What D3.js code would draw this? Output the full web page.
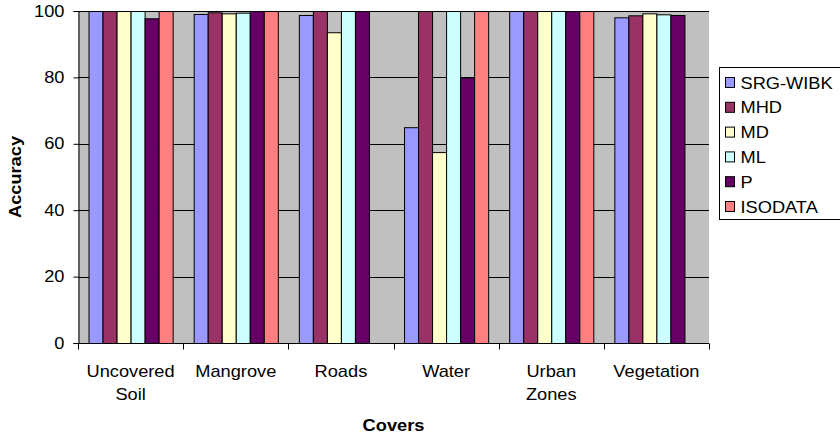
<!DOCTYPE html>
<html>
<head>
<meta charset="utf-8">
<script src="https://cdn.jsdelivr.net/npm/d3@7/dist/d3.min.js"></script>
<style>
  html, body { margin: 0; padding: 0; background: #fff; }
  svg { display: block; }
  text { font-family: "Liberation Sans", Arial, sans-serif; fill: #000; }
</style>
</head>
<body>
<svg id="chart" width="840" height="436"></svg>
<script>
// Land-cover classes (category axis)
const covers = ["Uncovered Soil", "Mangrove", "Roads", "Water", "Urban Zones", "Vegetation"];
const coverLines = [["Uncovered", "Soil"], ["Mangrove"], ["Roads"], ["Water"], ["Urban", "Zones"], ["Vegetation"]];

// Classification methods (series)
const methods = ["SRG-WIBK", "MHD", "MD", "ML", "P", "ISODATA"];
const colors = ["#9999FF", "#993366", "#FFFFCC", "#CCFFFF", "#660066", "#FF8080"];

// Accuracy per method, one value per cover (null = no bar)
const srgWibk = [100, 99.1, 98.8, 65, 100, 98.1];
const mhd     = [100, 99.6, 100, 100, 100, 98.7];
const md      = [100, 99.3, 93.6, 57.5, 100, 99.3];
const ml      = [100, 99.5, 100, 100, 100, 99.0];
const p       = [97.8, 100, 100, 80, 100, 98.8];
const isodata = [100, 100, null, 100, 100, null];
const seriesValues = [srgWibk, mhd, md, ml, p, isodata];

const yTicks = [0, 20, 40, 60, 80, 100];

const svg = d3.select("#chart");
const plot = { left: 78, top: 11, right: 709, bottom: 343 };
const fs = 16;    // label font size
const sx = 1.14;  // horizontal text stretch

const x0 = d3.scaleBand().domain(covers).range([plot.left, plot.right]).paddingInner(0).paddingOuter(0);
// 150% gap width: bars take 6 of 7.5 slots
const groupPad = 0.75 / 7.5;
const x1 = d3.scaleBand().domain(methods)
  .range([x0.bandwidth() * groupPad, x0.bandwidth() * (1 - groupPad)]).padding(0);
const y = d3.scaleLinear().domain([0, 100]).range([plot.bottom, plot.top]);

// plot background
svg.append("rect")
  .attr("x", plot.left).attr("y", plot.top)
  .attr("width", plot.right - plot.left).attr("height", plot.bottom - plot.top)
  .attr("fill", "#C0C0C0");

// gridlines
svg.append("g").selectAll("line").data(yTicks.filter(d => d > 0)).join("line")
  .attr("x1", plot.left).attr("x2", plot.right)
  .attr("y1", d => Math.round(y(d)) + 0.5).attr("y2", d => Math.round(y(d)) + 0.5)
  .attr("stroke", "#000").attr("stroke-width", 1);

// bars
const groups = svg.append("g").selectAll("g").data(covers).join("g")
  .attr("transform", c => `translate(${x0(c)},0)`);
groups.selectAll("rect")
  .data((c, ci) => methods.map((m, mi) => ({ m, mi, v: seriesValues[mi][ci] })).filter(d => d.v != null))
  .join("rect")
  .attr("x", d => x1(d.m) + 0.5)
  .attr("y", d => y(d.v) + 0.5)
  .attr("width", x1.bandwidth())
  .attr("height", d => y(0) - y(d.v))
  .attr("fill", d => colors[d.mi])
  .attr("stroke", "#000").attr("stroke-width", 1);

// y axis
const yAxis = svg.append("g").attr("transform", `translate(${plot.left + 0.5},0)`)
  .call(d3.axisLeft(y).tickValues(yTicks).tickSize(5).tickPadding(9).tickFormat(d3.format("d")));
yAxis.select(".domain").attr("stroke", "#000");
yAxis.selectAll(".tick line").attr("stroke", "#000");
yAxis.selectAll(".tick text")
  .attr("font-size", fs).attr("font-family", null)
  .each(function () {
    const t = d3.select(this);
    const xPos = +t.attr("x");
    t.attr("x", null).attr("transform", `translate(${xPos},0) scale(${sx},1)`);
  });

// x axis
const xAxis = svg.append("g").attr("transform", `translate(0,${plot.bottom + 0.5})`);
xAxis.append("line").attr("x1", plot.left).attr("x2", plot.right).attr("stroke", "#000");
xAxis.selectAll("line.tk").data(d3.range(covers.length + 1)).join("line")
  .attr("class", "tk")
  .attr("x1", i => Math.round(plot.left + i * x0.bandwidth()) + 0.5)
  .attr("x2", i => Math.round(plot.left + i * x0.bandwidth()) + 0.5)
  .attr("y1", 0).attr("y2", 6).attr("stroke", "#000");

// category labels
const catLabels = svg.append("g").selectAll("text").data(covers).join("text")
  .attr("transform", c => `translate(${x0(c) + x0.bandwidth() / 2},377) scale(${sx},1)`)
  .attr("text-anchor", "middle").attr("font-size", fs);
catLabels.selectAll("tspan").data((c, i) => coverLines[i]).join("tspan")
  .attr("x", 0).attr("dy", (d, i) => i === 0 ? 0 : 23).text(d => d);

// axis titles
svg.append("text")
  .attr("transform", `translate(${(plot.left + plot.right) / 2},431) scale(${sx},1)`)
  .attr("text-anchor", "middle").attr("font-size", fs).attr("font-weight", "bold").text("Covers");
svg.append("text")
  .attr("transform", `translate(21,${(plot.top + plot.bottom) / 2}) scale(1,${sx}) rotate(-90)`)
  .attr("text-anchor", "middle").attr("font-size", fs).attr("font-weight", "bold").text("Accuracy");

// legend
const legend = svg.append("g").attr("transform", "translate(719.5,67.5)");
legend.append("rect").attr("width", 130).attr("height", 152)
  .attr("fill", "#fff").attr("stroke", "#000");
const items = legend.selectAll("g").data(methods).join("g")
  .attr("transform", (d, i) => `translate(6,${15 + i * 24.8})`);
items.append("rect").attr("x", 0).attr("y", -5).attr("width", 9).attr("height", 10)
  .attr("fill", (d, i) => colors[i]).attr("stroke", "#000");
items.append("text").attr("transform", `translate(15,6) scale(${sx},1)`)
  .attr("font-size", fs).text(d => d);
</script>
</body>
</html>
